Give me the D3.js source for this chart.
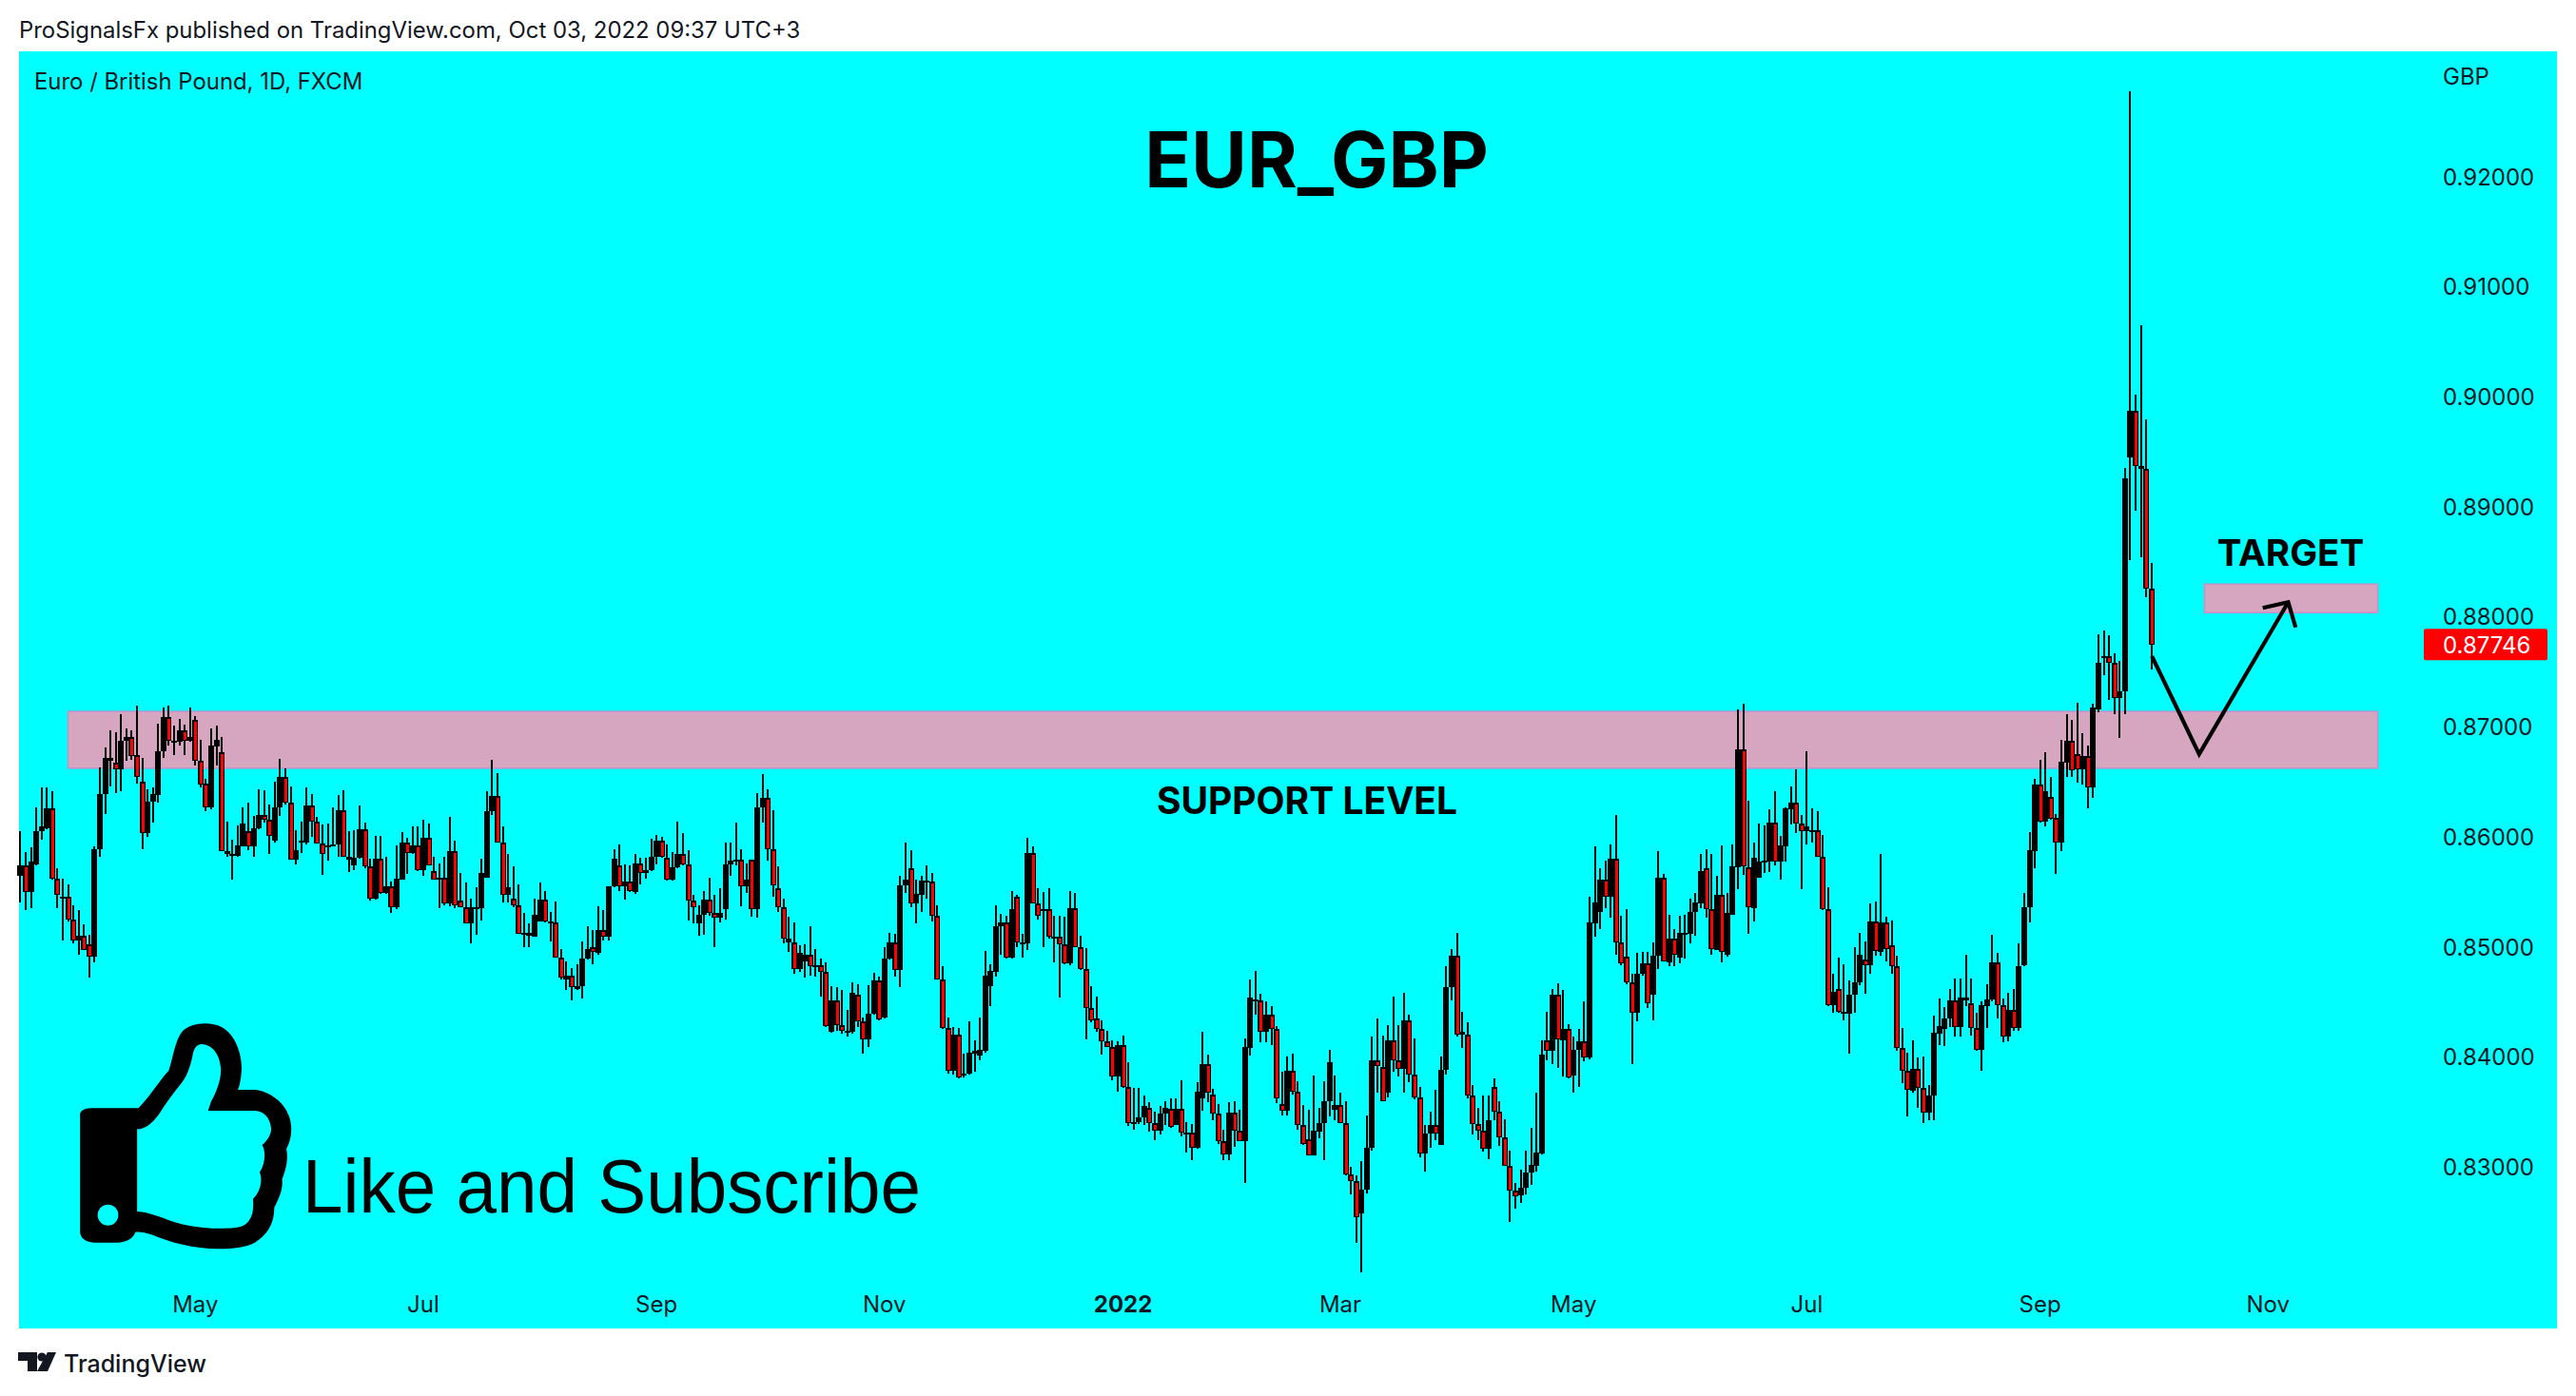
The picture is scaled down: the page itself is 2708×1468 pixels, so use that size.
<!DOCTYPE html>
<html><head><meta charset="utf-8">
<script src="https://cdn.jsdelivr.net/npm/d3@7"></script>
<style>html,body{margin:0;padding:0;background:#fff}svg{display:block}</style>
</head><body><svg id="c" width="2708" height="1468"></svg>
<script>
// EUR/GBP daily prices in units of 0.0001 GBP
const opens=[8564,8574,8550,8575,8605,8608,8626,8562,8544,8545,8525,8506,8510,8502,8491,8589,8639,8672,8667,8661,8687,8691,8674,8650,8603,8632,8638,8678,8709,8685,8686,8697,8687,8706,8669,8648,8627,8682,8677,8587,8583,8583,8591,8605,8591,8608,8620,8615,8596,8627,8654,8631,8579,8595,8595,8628,8614,8594,8591,8592,8593,8624,8582,8574,8581,8607,8573,8544,8580,8549,8555,8536,8561,8595,8585,8592,8570,8599,8569,8561,8563,8539,8587,8542,8536,8521,8535,8535,8563,8623,8637,8595,8547,8544,8538,8512,8513,8509,8523,8543,8521,8522,8490,8470,8474,8464,8464,8489,8500,8494,8515,8509,8555,8574,8555,8559,8550,8576,8567,8570,8582,8596,8581,8561,8572,8584,8575,8542,8521,8529,8543,8531,8526,8534,8575,8578,8579,8555,8579,8534,8627,8635,8589,8553,8536,8504,8504,8480,8487,8493,8482,8483,8477,8423,8451,8429,8423,8423,8456,8432,8416,8439,8469,8436,8489,8504,8479,8556,8571,8539,8547,8559,8559,8528,8470,8426,8387,8420,8384,8385,8403,8401,8405,8464,8477,8519,8522,8490,8545,8503,8503,8585,8539,8533,8534,8508,8509,8502,8485,8535,8500,8480,8444,8435,8425,8414,8409,8382,8411,8373,8340,8341,8345,8354,8340,8333,8348,8353,8338,8353,8330,8331,8317,8362,8393,8366,8348,8323,8311,8349,8333,8323,8408,8451,8451,8423,8438,8425,8357,8351,8387,8368,8338,8325,8310,8332,8340,8360,8352,8356,8340,8293,8287,8258,8279,8317,8397,8391,8367,8415,8397,8389,8433,8384,8363,8312,8330,8338,8320,8388,8463,8492,8420,8420,8365,8339,8333,8316,8373,8350,8327,8301,8278,8274,8281,8295,8301,8312,8415,8405,8456,8415,8425,8383,8406,8414,8399,8521,8532,8561,8545,8580,8504,8491,8468,8440,8475,8485,8456,8492,8563,8486,8507,8490,8512,8512,8532,8539,8571,8534,8497,8547,8493,8529,8572,8679,8572,8535,8563,8577,8577,8613,8577,8591,8625,8631,8612,8605,8604,8606,8582,8534,8447,8462,8439,8439,8456,8468,8488,8483,8523,8495,8522,8501,8482,8408,8387,8369,8389,8372,8349,8365,8421,8425,8435,8451,8427,8451,8449,8426,8406,8446,8452,8486,8447,8418,8443,8426,8483,8536,8587,8647,8614,8636,8617,8595,8667,8687,8675,8661,8673,8645,8716,8762,8764,8758,8726,8732,8945,8987,8937,8934,8825];
const highs=[8605,8586,8590,8627,8645,8645,8641,8571,8562,8557,8538,8533,8520,8511,8591,8663,8681,8697,8695,8711,8698,8697,8719,8672,8643,8645,8703,8717,8719,8701,8707,8702,8717,8710,8688,8653,8698,8701,8691,8614,8597,8610,8627,8631,8619,8643,8642,8629,8650,8671,8662,8646,8606,8614,8645,8639,8618,8611,8612,8627,8638,8642,8605,8606,8628,8613,8580,8601,8601,8582,8559,8592,8604,8599,8609,8609,8615,8612,8582,8576,8582,8618,8596,8567,8558,8544,8554,8580,8641,8670,8658,8609,8584,8573,8557,8531,8521,8544,8558,8551,8532,8541,8498,8487,8481,8484,8505,8519,8515,8537,8533,8555,8589,8593,8575,8574,8584,8581,8581,8598,8602,8600,8593,8586,8614,8603,8588,8547,8538,8551,8563,8547,8553,8595,8595,8613,8589,8576,8579,8640,8657,8643,8624,8573,8544,8527,8522,8501,8502,8519,8498,8489,8486,8464,8463,8461,8443,8468,8466,8436,8465,8476,8473,8500,8513,8512,8564,8595,8588,8561,8564,8574,8567,8538,8482,8436,8427,8426,8403,8432,8415,8436,8496,8484,8538,8530,8528,8551,8547,8512,8599,8591,8553,8550,8553,8528,8528,8527,8551,8549,8510,8499,8464,8455,8433,8424,8415,8414,8419,8395,8372,8372,8365,8359,8350,8355,8360,8362,8362,8379,8341,8339,8377,8423,8402,8371,8357,8334,8359,8360,8352,8417,8470,8478,8457,8450,8446,8428,8386,8400,8403,8378,8356,8352,8383,8354,8378,8406,8383,8367,8360,8300,8292,8305,8347,8418,8435,8419,8429,8455,8429,8458,8438,8417,8373,8338,8350,8370,8400,8482,8498,8513,8441,8431,8374,8354,8365,8365,8380,8360,8343,8315,8285,8297,8315,8335,8367,8415,8441,8462,8467,8461,8430,8418,8425,8450,8545,8591,8571,8578,8593,8620,8528,8534,8475,8494,8495,8495,8504,8587,8566,8529,8516,8528,8529,8544,8549,8584,8589,8584,8564,8592,8549,8593,8716,8721,8633,8595,8612,8610,8625,8641,8601,8627,8646,8661,8620,8678,8626,8623,8602,8554,8475,8490,8484,8469,8500,8513,8505,8539,8541,8584,8527,8524,8492,8426,8404,8415,8399,8400,8374,8437,8453,8445,8462,8471,8471,8493,8471,8440,8450,8466,8511,8494,8453,8458,8462,8503,8549,8604,8653,8670,8677,8654,8621,8688,8711,8706,8722,8694,8683,8721,8784,8787,8783,8767,8760,8935,9277,9002,9065,8979,8849];
const lows=[8540,8533,8535,8574,8597,8607,8561,8535,8506,8523,8503,8493,8497,8472,8486,8582,8621,8646,8640,8641,8669,8670,8648,8589,8600,8613,8631,8672,8683,8674,8683,8674,8686,8665,8645,8623,8625,8665,8587,8582,8561,8582,8591,8588,8582,8607,8613,8584,8595,8619,8629,8579,8575,8585,8593,8600,8594,8565,8578,8591,8582,8582,8568,8570,8580,8571,8542,8543,8548,8548,8531,8534,8561,8566,8584,8569,8564,8574,8561,8535,8538,8537,8535,8536,8521,8503,8511,8524,8563,8620,8595,8540,8540,8536,8512,8500,8500,8509,8523,8522,8505,8490,8470,8461,8451,8461,8453,8488,8484,8493,8506,8506,8554,8551,8543,8550,8548,8557,8562,8569,8575,8581,8560,8560,8571,8574,8524,8521,8510,8511,8528,8500,8522,8525,8564,8574,8537,8549,8527,8526,8613,8578,8545,8532,8503,8495,8475,8477,8472,8474,8473,8455,8427,8422,8424,8421,8418,8421,8427,8403,8409,8438,8433,8435,8488,8473,8463,8549,8536,8521,8532,8544,8523,8470,8425,8385,8384,8380,8381,8384,8386,8397,8404,8446,8473,8493,8489,8489,8500,8490,8497,8539,8525,8500,8507,8486,8454,8484,8483,8500,8479,8416,8431,8423,8402,8409,8379,8368,8372,8337,8334,8339,8338,8332,8324,8329,8338,8335,8338,8328,8313,8306,8316,8351,8359,8342,8321,8306,8306,8318,8323,8285,8401,8438,8413,8413,8411,8358,8347,8347,8366,8334,8320,8310,8310,8326,8306,8346,8342,8340,8292,8275,8231,8204,8276,8315,8367,8360,8363,8386,8382,8367,8377,8361,8309,8296,8317,8324,8320,8384,8451,8418,8408,8362,8329,8324,8314,8307,8342,8319,8301,8250,8262,8267,8275,8284,8296,8311,8397,8393,8390,8382,8380,8367,8373,8396,8398,8509,8516,8535,8526,8493,8483,8466,8393,8432,8474,8444,8433,8480,8487,8482,8482,8485,8489,8503,8510,8535,8526,8493,8497,8486,8491,8529,8552,8565,8512,8523,8563,8567,8568,8574,8561,8577,8611,8603,8552,8593,8595,8582,8533,8446,8440,8440,8433,8403,8440,8465,8457,8475,8492,8492,8487,8475,8405,8376,8346,8367,8354,8340,8342,8342,8411,8410,8427,8418,8418,8446,8419,8405,8387,8426,8450,8435,8413,8414,8424,8424,8482,8522,8571,8613,8609,8615,8566,8587,8654,8654,8649,8647,8626,8635,8713,8747,8724,8711,8690,8711,8851,8896,8854,8818,8752];
const closes=[8574,8550,8577,8605,8609,8626,8562,8547,8545,8525,8506,8510,8497,8491,8589,8639,8672,8669,8661,8687,8691,8673,8654,8603,8632,8639,8678,8709,8687,8687,8697,8687,8691,8669,8647,8627,8683,8688,8587,8584,8584,8592,8612,8591,8608,8620,8615,8601,8627,8654,8631,8579,8588,8596,8628,8614,8594,8584,8592,8593,8624,8582,8579,8581,8607,8573,8544,8580,8549,8555,8536,8562,8595,8585,8592,8570,8599,8574,8561,8563,8539,8587,8538,8536,8521,8536,8536,8567,8623,8637,8595,8547,8554,8538,8512,8513,8510,8529,8543,8523,8523,8490,8472,8474,8463,8463,8489,8498,8495,8515,8509,8555,8580,8555,8559,8551,8576,8567,8570,8582,8596,8582,8561,8572,8584,8575,8542,8536,8529,8543,8531,8526,8531,8575,8578,8579,8555,8561,8534,8627,8635,8589,8556,8536,8507,8507,8480,8494,8493,8482,8483,8477,8428,8451,8429,8424,8424,8458,8432,8416,8439,8469,8434,8489,8504,8479,8556,8561,8539,8548,8560,8560,8528,8470,8426,8387,8420,8381,8385,8404,8405,8406,8474,8478,8519,8522,8490,8534,8504,8504,8585,8539,8528,8534,8509,8509,8502,8485,8535,8500,8480,8444,8433,8425,8414,8409,8382,8411,8373,8340,8341,8345,8355,8340,8333,8348,8354,8336,8353,8331,8331,8317,8368,8393,8367,8348,8323,8311,8349,8333,8323,8409,8454,8452,8423,8438,8425,8362,8351,8387,8368,8338,8321,8310,8333,8340,8360,8395,8356,8340,8293,8287,8254,8279,8317,8397,8392,8360,8415,8397,8389,8433,8384,8363,8312,8330,8338,8330,8388,8463,8492,8420,8423,8365,8339,8333,8316,8342,8350,8327,8301,8278,8273,8281,8295,8302,8313,8402,8405,8456,8416,8425,8381,8406,8414,8399,8522,8540,8561,8545,8580,8504,8485,8468,8440,8475,8485,8449,8492,8563,8487,8507,8493,8513,8513,8532,8540,8569,8534,8498,8547,8495,8531,8573,8679,8573,8536,8581,8577,8578,8613,8577,8592,8626,8631,8612,8605,8609,8606,8582,8534,8447,8459,8441,8441,8456,8468,8493,8483,8523,8496,8522,8498,8482,8408,8387,8370,8389,8372,8349,8365,8422,8428,8435,8451,8427,8454,8454,8426,8406,8447,8452,8486,8447,8418,8443,8426,8482,8536,8588,8647,8614,8641,8616,8595,8668,8687,8660,8661,8673,8645,8717,8758,8764,8758,8726,8732,8926,8987,8937,8934,8825,8774.6];
const priceTicks=[0.83,0.84,0.85,0.86,0.87,0.88,0.89,0.90,0.91,0.92];
const monthLabels=["May","Jul","Sep","Nov","2022","Mar","May","Jul","Sep","Nov"];
const monthBars=[33,76,120,163,208,249,293,337,381,424];
const supportZone=[9,444.7,0.87138,0.86622];
const targetZone=[412,444.7,0.88295,0.88036];
const pathBars=[402.1,411,427.8];
const pathPrices=[0.87639,0.8675,0.88131];
const headBars=[423,427.8,429.2];
const headPrices=[0.88079,0.88131,0.87902];
const lastPrice=0.87746;

const CYAN="#00FFFF",RED="#FF0000",PINK="#D6A5BF",INK="#131722";
const svg=d3.select("#c");
const pane={l:20,r:2688,t:54,b:1397};
const x=d3.scaleLinear().domain([-0.25,478.5]).range([pane.l,pane.r]);
const y=d3.scaleLinear().domain([0.92,0.83]).range([185.5,1227]);
svg.append("rect").attr("width",2708).attr("height",1468).attr("fill","#fff");
svg.append("rect").attr("x",pane.l).attr("y",pane.t).attr("width",pane.r-pane.l).attr("height",pane.b-pane.t).attr("fill",CYAN);

// zones
[supportZone,targetZone].forEach(z=>{
  svg.append("rect").attr("x",x(z[0])).attr("y",y(z[2])).attr("width",x(z[1])-x(z[0])).attr("height",y(z[3])-y(z[2]))
    .attr("fill",PINK).attr("stroke","#C98FC6").attr("stroke-width",1.5);
});

// candles
const bars=d3.range(opens.length);
const g=svg.append("g").attr("shape-rendering","crispEdges");
bars.forEach(i=>{
  const cx=Math.round(x(i)),o=opens[i]/1e4,h=highs[i]/1e4,l=lows[i]/1e4,c=closes[i]/1e4;
  g.append("rect").attr("x",cx-1).attr("width",2).attr("y",y(h)).attr("height",y(l)-y(h)).attr("fill","#000");
  const top=Math.round(y(Math.max(o,c))),bot=Math.round(y(Math.min(o,c)));
  const down=c<o,bh=Math.max(bot-top,1);
  g.append("rect").attr("x",cx-3).attr("y",top).attr("width",6).attr("height",down?Math.max(bh,3):Math.max(bh,2)).attr("fill","#000");
  if(down&&bh>2) g.append("rect").attr("x",cx-1.5).attr("y",top+1.5).attr("width",3).attr("height",bh-3).attr("fill",RED);
});

// hand-drawn path
const ln=d3.line().x(d=>x(d[0])).y(d=>y(d[1]));
svg.append("path").attr("d",ln(d3.zip(pathBars,pathPrices))).attr("fill","none").attr("stroke","#000").attr("stroke-width",4.2).attr("stroke-linejoin","miter");
svg.append("path").attr("d",ln(d3.zip(headBars,headPrices))).attr("fill","none").attr("stroke","#000").attr("stroke-width",4.2);

// thumb icon
svg.append("path").attr("transform","translate(0,1040) scale(0.6378,0.3333)").attr("fill","#000").attr("fill-rule","evenodd")
 .attr("d","M150 376 L228 376 C245 345 262 290 278 258 C285 220 288 165 300 135 C312 108 345 100 365 120 C390 145 400 215 398 260 C397 285 395 305 392 318 L420 318 C455 325 482 385 480 445 C480 470 476 490 472 505 C476 540 470 575 465 600 C467 630 460 660 452 690 C452 730 445 770 420 800 C405 815 385 820 360 820 C320 820 280 800 250 775 C240 768 230 765 223 767 C220 785 210 798 195 800 L155 800 C140 798 132 785 132 765 L132 395 C132 385 140 376 150 376 Z M226 442 C240 442 250 425 262 395 C272 365 285 330 300 295 C310 270 315 235 318 205 C320 185 325 175 332 174 C350 175 362 205 364 250 C365 290 355 330 348 355 L343 384 L420 384 C435 386 445 405 447 440 C447 460 440 480 432 492 C438 510 438 550 428 578 C433 600 430 640 417 662 C418 690 418 720 405 742 C395 755 380 755 350 755 C310 752 285 735 262 718 C250 710 238 703 226 702 Z M161 713 A17 33 0 1 0 195 713 A17 33 0 1 0 161 713 Z");

const T=(s,px,py,size,opt={})=>svg.append("text").attr("x",px).attr("y",py).attr("font-size",size)
  .attr("fill",opt.fill||INK).attr("font-weight",opt.w||400).attr("text-anchor",opt.a||"start").attr("font-family",opt.f||'Inter,"Noto Sans",sans-serif').text(s);
T("ProSignalsFx published on TradingView.com, Oct 03, 2022 09:37 UTC+3",20,40,23.9);
T("Euro / British Pound, 1D, FXCM",36,94,23.9);
T("EUR_GBP",1384,197,80.5,{w:700,a:"middle",fill:"#000"});
T("SUPPORT LEVEL",1374,856,39,{w:700,a:"middle",fill:"#000"});
T("TARGET",2408,595,38.5,{w:700,a:"middle",fill:"#000"});
T("Like and Subscribe",318,1275,80,{fill:"#000",f:'"Liberation Sans",Arial,sans-serif'}).attr("textLength",650).attr("lengthAdjust","spacingAndGlyphs");
T("GBP",2568,89,24);
priceTicks.forEach(p=>T(p.toFixed(5),2568,y(p)+9,24));

// last price label
svg.append("rect").attr("x",2548).attr("y",y(lastPrice)-16.5).attr("width",130).attr("height",33).attr("rx",2).attr("fill",RED);
T(lastPrice.toFixed(5),2568,y(lastPrice)+9,24,{fill:"#fff"});

monthLabels.forEach((m,i)=>T(m,x(monthBars[i]),1380,24,{a:"middle",w:m==="2022"?700:400}));

// logo
svg.append("path").attr("fill",INK).attr("d","M19 1422 H39 V1442 H29 V1431 H19 Z M50 1422 H59 L50 1442 H39 Z");
svg.append("circle").attr("cx",44).attr("cy",1427).attr("r",4.6).attr("fill",INK);
T("TradingView",67,1443,25,{w:500});
</script></body></html>
